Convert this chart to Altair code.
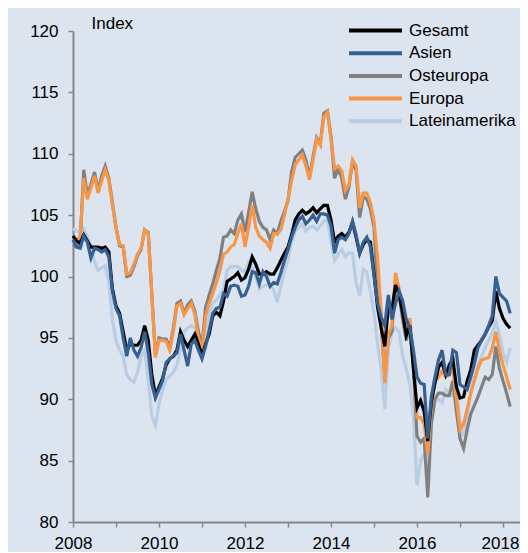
import altair as alt
import pandas as pd

# Monthly observations, Jan 2008 .. Mar 2018
first_year = 2008
n_months = 123

series_names = ["Gesamt", "Asien", "Osteuropa", "Europa", "Lateinamerika"]
series_colors = ["#000000", "#376092", "#808080", "#f79646", "#b9cde5"]
draw_order = ["Lateinamerika", "Osteuropa", "Europa", "Gesamt", "Asien"]

gesamt = [
    103.3, 102.9, 102.7, 103.4, 102.9, 102.4, 102.4, 102.4, 102.3, 102.4, 102.0, 99.0,
    97.6, 97.0, 95.5, 94.0, 94.5, 94.4, 94.4, 94.8, 96.0, 94.8, 92.0, 90.3,
    91.0, 91.7, 92.8, 93.3, 93.5, 94.0, 95.5, 94.8, 94.3, 94.8, 95.3, 94.5,
    93.5, 94.5, 95.3, 96.8, 97.1, 96.8, 98.0, 99.6, 99.8, 100.0, 100.3, 99.7,
    99.9, 100.6, 101.6, 101.0, 100.2, 100.2, 100.4, 100.2, 100.2, 100.7, 101.3, 101.9,
    102.4, 103.4, 104.6, 105.1, 105.4, 105.1, 105.3, 105.6, 105.2, 105.5, 105.8, 105.8,
    104.6, 102.8, 103.3, 103.5, 103.2, 103.6, 104.4, 103.2, 101.9, 102.6, 103.0, 102.8,
    100.2, 97.5, 95.8, 94.3, 97.5, 97.3, 99.3, 98.5, 97.0, 95.2, 96.0, 92.5,
    89.3, 89.9, 89.0, 86.6, 89.8, 91.3, 92.6, 93.0, 92.0, 92.8, 93.3, 91.0,
    90.1, 90.2, 91.5, 92.4, 94.0, 94.4, 94.8, 95.3, 95.9, 96.4, 98.8, 97.4,
    96.6, 96.1, 95.8,
]

asien = [
    103.0, 102.4, 102.3, 103.3, 102.8, 101.5, 102.3, 102.2, 102.0, 102.2, 101.6, 98.8,
    97.4, 96.8, 95.0, 93.5, 95.0, 94.0, 93.5, 94.2, 95.5, 93.8, 91.2, 90.1,
    90.8, 91.5, 93.0, 93.3, 93.5, 93.8, 95.3, 94.0, 92.7, 94.5, 94.8, 94.0,
    93.3, 94.3, 95.6, 97.0, 97.4, 97.5, 98.6, 98.4, 99.2, 99.3, 99.2, 98.4,
    98.5, 99.2, 100.4, 100.3, 99.4, 100.4, 100.0, 99.2, 99.5, 99.4, 100.3, 101.3,
    102.2, 103.2, 104.0, 104.6, 104.9, 104.3, 104.6, 105.0, 104.5, 105.1, 105.1, 105.0,
    104.1, 101.9, 103.0, 103.2, 103.0, 103.5, 104.5, 103.4, 101.9, 102.8, 103.2, 102.4,
    100.0, 97.8, 96.7, 96.0, 98.5, 96.5, 97.8, 98.8, 98.0, 96.5, 95.8, 94.0,
    91.8, 91.3, 91.2, 86.8, 90.2, 91.8, 93.2, 94.0, 92.0, 92.0, 94.0, 93.8,
    91.2, 91.0, 90.8, 91.8, 92.9, 94.2, 94.8, 95.3, 96.0, 96.8, 100.0, 98.6,
    98.3, 98.0, 97.0,
]

osteuropa = [
    102.6, 102.4, 102.8, 108.7, 106.6, 107.5, 108.5, 107.0, 108.2, 109.0, 108.0, 106.0,
    104.0, 102.5, 102.4, 100.0, 100.1, 100.8, 101.7, 102.2, 103.8, 103.6, 98.5, 93.6,
    95.0, 94.9, 94.9, 94.2, 95.8, 97.8, 98.0, 97.0, 97.7, 98.0, 97.2, 95.5,
    94.3, 97.5, 98.5, 99.4, 100.5, 101.5, 103.2, 103.3, 103.8, 103.5, 104.6, 105.1,
    103.6, 105.2, 106.9, 105.5, 104.5, 104.0, 103.8, 103.0, 103.8, 103.5, 104.5, 105.3,
    106.2, 108.5, 109.7, 110.0, 110.3, 109.5, 108.1, 109.8, 111.3, 110.8, 113.3, 113.5,
    111.4, 108.0, 108.8, 108.0, 106.3, 107.3, 109.4, 108.6, 104.8, 106.5, 106.3, 105.5,
    104.0, 99.0, 96.0, 92.0, 95.0, 95.5, 99.8, 98.5, 96.5, 94.8, 96.0, 92.5,
    87.0, 86.5, 86.8, 82.0, 88.0, 90.0, 90.5, 90.5, 90.3, 90.3, 91.5, 89.0,
    86.8, 86.0, 87.5, 88.8, 89.5, 90.2, 91.0, 91.8, 91.6, 92.0, 94.3, 92.5,
    91.5, 90.5, 89.4,
]

europa = [
    103.1, 103.0, 103.2, 108.0, 106.3, 107.2, 108.2, 106.8, 107.8, 108.7, 107.8, 105.8,
    104.0, 102.6, 102.5, 100.2, 100.3, 101.0, 101.8, 102.3, 103.8, 103.5, 98.5, 93.4,
    94.8, 94.8, 94.7, 94.0, 95.5, 97.6, 97.8, 96.9, 97.4, 97.8, 96.9, 95.0,
    94.0, 96.8, 97.8, 98.6, 99.5, 100.5, 101.8, 102.0, 102.4, 102.6, 103.5, 104.3,
    102.4, 104.0, 105.8, 104.0, 103.3, 103.0, 102.8, 102.3, 103.5, 103.5, 103.8, 105.0,
    106.3, 107.8, 109.1, 109.5, 109.9, 109.0, 107.9, 109.5, 111.2, 110.7, 113.0, 113.4,
    111.2, 108.8, 109.0, 108.6, 107.0, 107.5, 109.5, 109.0, 105.6, 106.8, 106.8, 106.0,
    104.5, 101.5, 97.0, 91.3, 95.3, 96.0, 100.3, 99.0, 97.0, 95.8, 96.6, 93.0,
    88.5, 88.5, 88.0, 85.5, 89.5, 91.5, 91.8, 92.3, 91.8, 92.0, 92.5, 90.0,
    87.5, 88.0, 89.2, 90.5, 91.5, 92.5, 93.2, 93.3, 93.4, 94.2, 95.5, 94.0,
    92.8, 91.8, 90.8,
]

lateinamerika = [
    103.9, 103.7, 103.7, 103.9, 103.3, 102.4, 101.2, 100.5, 100.7, 100.9, 99.5, 96.5,
    94.8, 94.0, 93.5, 92.0, 91.6, 91.4, 92.2, 93.5, 94.0, 91.6, 88.6, 87.9,
    89.6, 90.8, 91.6, 91.9, 92.2, 92.8, 94.0, 95.5, 95.8, 96.0, 95.8, 95.2,
    94.0, 94.5, 97.0, 97.8, 98.1, 98.5, 98.9, 100.5, 100.8, 100.8, 100.8, 100.5,
    100.4, 101.2, 100.8, 100.0, 99.0, 99.2, 99.3, 99.3, 98.9, 97.9, 99.2, 100.4,
    101.4, 102.8, 103.7, 104.0, 104.3, 103.7, 104.0, 104.1, 103.8, 104.1, 104.5, 104.6,
    102.8, 101.3, 101.8, 102.2, 101.6, 101.9, 101.9, 99.5, 98.4, 100.6, 100.4, 98.8,
    97.0, 94.5, 92.5, 89.2, 94.0, 95.5, 95.8, 95.5, 93.5, 92.5, 91.2, 88.5,
    83.0, 85.0, 85.5, 84.2, 88.5, 89.8, 90.0, 89.7, 90.8, 90.5, 90.3, 91.3,
    88.0, 87.0, 88.5, 90.5, 91.8, 92.8, 93.5, 94.2, 94.8, 95.4, 96.3, 95.3,
    93.8, 93.0, 94.2,
]

year_ticks = list(range(2008, 2019))
index_ticks = list(range(80, 121, 5))

values_by_series = {
    "Gesamt": gesamt,
    "Asien": asien,
    "Osteuropa": osteuropa,
    "Europa": europa,
    "Lateinamerika": lateinamerika,
}

rows = []
for name in draw_order:
    for i, v in enumerate(values_by_series[name]):
        rows.append({"t": first_year + i / 12.0, "v": v, "s": name})
df = pd.DataFrame(rows)

FONT = "Liberation Sans"
AXIS_GRAY = "#868686"

x_axis = alt.Axis(
    values=year_ticks,
    format="d",
    labelExpr="datum.value % 2 == 0 ? datum.label : ''",
    grid=False,
    domainColor=AXIS_GRAY,
    domainWidth=2,
    tickColor=AXIS_GRAY,
    tickWidth=1.5,
    tickSize=5,
    labelFont=FONT,
    labelFontSize=17,
    labelColor="#000000",
    labelPadding=8,
    labelFlush=False,
    labelOverlap=False,
    labelOffset={"condition": {"test": "datum.value == 2018", "value": -3}, "value": 0},
    title=None,
)

y_axis = alt.Axis(
    values=index_ticks,
    grid=False,
    domainColor=AXIS_GRAY,
    domainWidth=2,
    tickColor=AXIS_GRAY,
    tickWidth=1.5,
    tickSize=5,
    labelFont=FONT,
    labelFontSize=17,
    labelColor="#000000",
    labelPadding=10,
    labelFlush=False,
    labelOverlap=False,
    title="Index",
    titleAngle=0,
    titleAlign="left",
    titleBaseline="alphabetic",
    titleX=18,
    titleY=-3,
    titleFont=FONT,
    titleFontSize=17,
    titleFontWeight="normal",
    titleColor="#000000",
)

legend = alt.Legend(
    orient="none",
    legendX=274,
    legendY=-9,
    title=None,
    symbolType="stroke",
    symbolSize=2809,
    symbolStrokeWidth=4,
    clipHeight=17,
    rowPadding=4.7,
    labelFont=FONT,
    labelFontSize=17,
    labelColor="#000000",
    labelOffset=5,
    padding=0,
)

chart = (
    alt.Chart(df)
    .mark_line(strokeWidth=3.2)
    .encode(
        x=alt.X("t:Q", scale=alt.Scale(domain=[2008, 2018.395], nice=False, zero=False), axis=x_axis),
        y=alt.Y("v:Q", scale=alt.Scale(domain=[80, 120], nice=False, zero=False), axis=y_axis),
        color=alt.Color(
            "s:N",
            scale=alt.Scale(domain=series_names, range=series_colors),
            sort=series_names,
            legend=legend,
        ),
    )
    .properties(
        width=447,
        height=491,
        background="#dce4ef",
        padding={"left": 65, "top": 23, "right": 0, "bottom": 30},
        autosize=alt.AutoSizeParams(type="none"),
    )
    .configure_view(stroke=None)
)

chart.save("out.html", embed_options={"renderer": "svg", "actions": False})
